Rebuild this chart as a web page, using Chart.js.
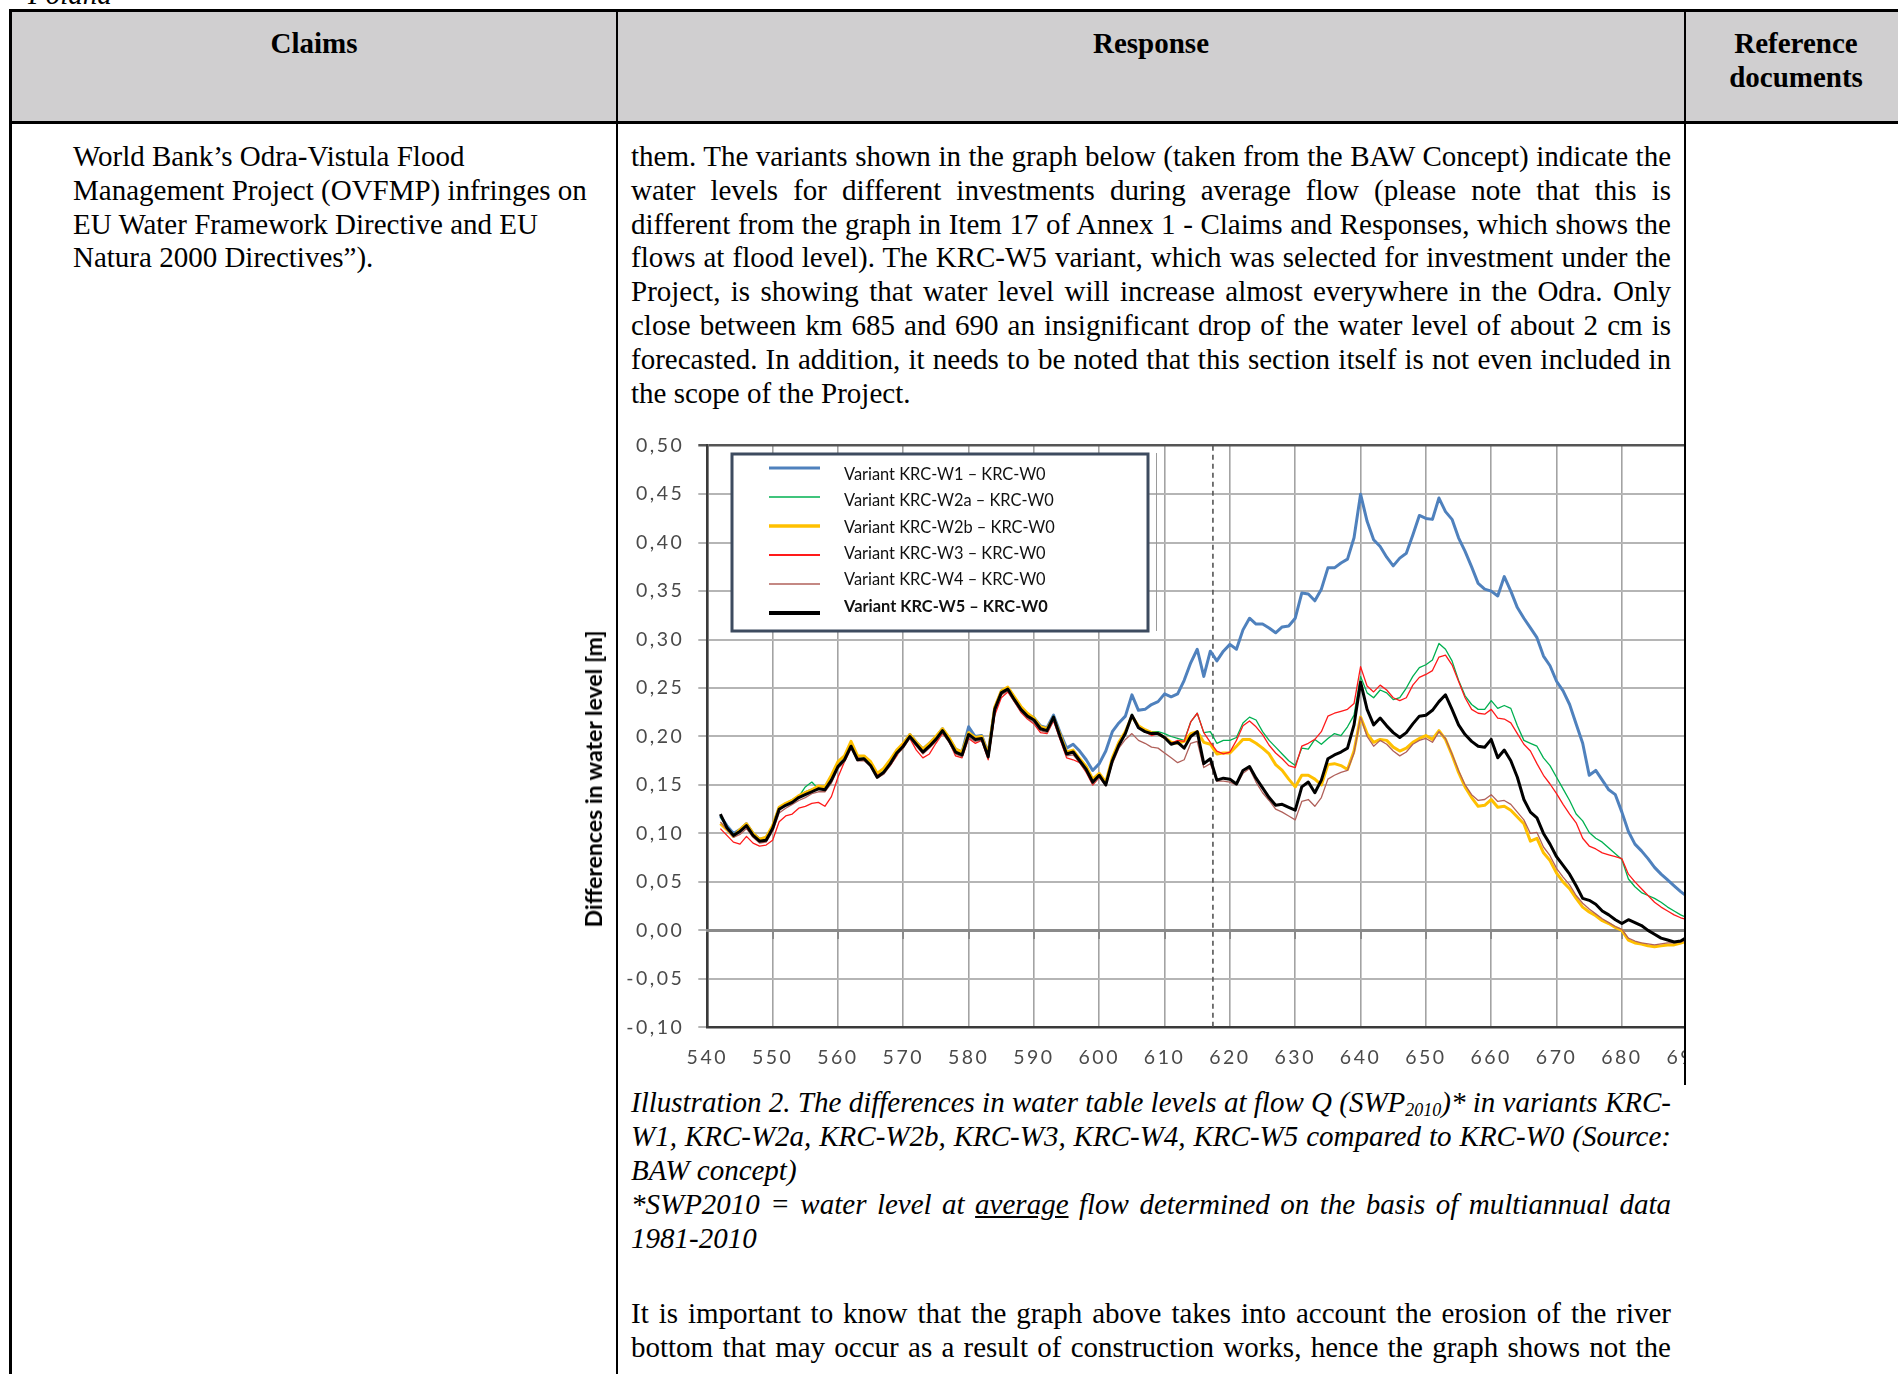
<!DOCTYPE html>
<html>
<head>
<meta charset="utf-8">
<title>Odra water level differences</title>
<script src="https://cdn.jsdelivr.net/npm/chart.js@4.4.1/dist/chart.umd.min.js"></script>
<style>
  html, body { margin: 0; padding: 0; background: #fff; }
  body {
    width: 1898px; height: 1374px; overflow: hidden; position: relative;
    font-family: "Liberation Serif", "Times New Roman", serif; color: #000;
  }
  .ln { position: absolute; font-size: 29px; line-height: 33.9px; height: 33.9px; white-space: nowrap; }
  .hd { font-weight: bold; text-align: center; }
  .it { font-style: italic; }
  .rule { position: absolute; background: #000; z-index: 3; }
  #headBg { position: absolute; left: 12px; top: 12px; width: 1886px; height: 110px; background: #d0cfd0; }
  #plotBox { position: absolute; left: 560px; top: 420px; width: 1124px; height: 660px; overflow: hidden; z-index: 1; }
  #ytitle {
    position: absolute; left: 593px; top: 779px; z-index: 2;
    transform: translate(-50%, -50%) rotate(-90deg);
    font-family: Lato, "Open Sans", sans-serif; font-weight: bold; font-size: 23px; white-space: nowrap;
  }
  sub { font-size: 0.62em; vertical-align: -0.22em; line-height: 0; }
</style>
</head>
<body>

<div class="ln it" style="left:28px; top:-22px;">Poland</div>

<div id="headBg"></div>
<div class="ln hd" style="left:12px; width:604px; top:26.6px;">Claims</div>
<div class="ln hd" style="left:618px; width:1066px; top:26.6px;">Response</div>
<div class="ln hd" style="left:1686px; width:220px; top:26.6px;">Reference</div>
<div class="ln hd" style="left:1686px; width:220px; top:60.5px;">documents</div>

<div class="ln" style="left:73px; top:139.7px;">World Bank’s Odra-Vistula Flood</div>
<div class="ln" style="left:73px; top:173.6px;">Management Project (OVFMP) infringes on</div>
<div class="ln" style="left:73px; top:207.5px;">EU Water Framework Directive and EU</div>
<div class="ln" style="left:73px; top:241.4px;">Natura 2000 Directives”).</div>

<div class="ln j" style="left:631px; width:1040px; top:139.7px;">them. The variants shown in the graph below (taken from the BAW Concept) indicate the</div>
<div class="ln j" style="left:631px; width:1040px; top:173.6px;">water levels for different investments during average flow (please note that this is</div>
<div class="ln j" style="left:631px; width:1040px; top:207.5px;">different from the graph in Item 17 of Annex 1 - Claims and Responses, which shows the</div>
<div class="ln j" style="left:631px; width:1040px; top:241.4px;">flows at flood level). The KRC-W5 variant, which was selected for investment under the</div>
<div class="ln j" style="left:631px; width:1040px; top:275.3px;">Project, is showing that water level will increase almost everywhere in the Odra. Only</div>
<div class="ln j" style="left:631px; width:1040px; top:309.2px;">close between km 685 and 690 an insignificant drop of the water level of about 2 cm is</div>
<div class="ln j" style="left:631px; width:1040px; top:343.1px;">forecasted. In addition, it needs to be noted that this section itself is not even included in</div>
<div class="ln" style="left:631px; top:377px;">the scope of the Project.</div>

<div id="ytitle">Differences in water level [m]</div>
<div id="plotBox"><canvas id="levels" width="1200" height="660" style="width:1200px;height:660px;"></canvas></div>

<div class="ln it j" style="left:631px; width:1040px; top:1086px;">Illustration 2. The differences in water table levels at flow Q (SWP<sub>2010</sub>)* in variants KRC-</div>
<div class="ln it j" style="left:631px; width:1040px; top:1119.9px;">W1, KRC-W2a, KRC-W2b, KRC-W3, KRC-W4, KRC-W5 compared to KRC-W0 (Source:</div>
<div class="ln it" style="left:631px; top:1153.8px;">BAW concept)</div>
<div class="ln it j" style="left:631px; width:1040px; top:1187.7px;">*SWP2010 = water level at <u>average</u> flow determined on the basis of multiannual data</div>
<div class="ln it" style="left:631px; top:1221.6px;">1981-2010</div>

<div class="ln j" style="left:631px; width:1040px; top:1297px;">It is important to know that the graph above takes into account the erosion of the river</div>
<div class="ln j" style="left:631px; width:1040px; top:1330.9px;">bottom that may occur as a result of construction works, hence the graph shows not the</div>

<!-- table rules -->
<div class="rule" style="left:9px; top:9px; width:1889px; height:3px;"></div>
<div class="rule" style="left:9px; top:9px; width:3px; height:1365px;"></div>
<div class="rule" style="left:9px; top:121px; width:1889px; height:3px;"></div>
<div class="rule" style="left:616px; top:9px; width:2px; height:1365px;"></div>
<div class="rule" style="left:1684px; top:9px; width:2px; height:1076px;"></div>

<script>
// River kilometre stations (km of the Odra)
const kmStations = [
  542,543,544,545,546,547,548,549,550,551,
  552,553,554,555,556,557,558,559,560,561,
  562,563,564,565,566,567,568,569,570,571,
  572,573,574,575,576,577,578,579,580,581,
  582,583,584,585,586,587,588,589,590,591,
  592,593,594,595,596,597,598,599,600,601,
  602,603,604,605,606,607,608,609,610,611,
  612,613,614,615,616,617,618,619,620,621,
  622,623,624,625,626,627,628,629,630,631,
  632,633,634,635,636,637,638,639,640,641,
  642,643,644,645,646,647,648,649,650,651,
  652,653,654,655,656,657,658,659,660,661,
  662,663,664,665,666,667,668,669,670,671,
  672,673,674,675,676,677,678,679,680,681,
  682,683,684,685,686,687,688,689,690
];

// Water level difference to KRC-W0 [m], per variant
const diffW1 = [
  0.118,0.108,0.100,0.104,0.110,0.100,0.094,0.095,0.107,0.126,
  0.130,0.134,0.138,0.142,0.145,0.147,0.147,0.158,0.171,0.178,
  0.192,0.178,0.179,0.172,0.161,0.166,0.174,0.185,0.192,0.202,
  0.194,0.187,0.193,0.199,0.208,0.198,0.187,0.184,0.210,0.200,
  0.201,0.183,0.229,0.246,0.250,0.240,0.230,0.223,0.219,0.211,
  0.209,0.222,0.204,0.188,0.192,0.185,0.176,0.165,0.172,0.185,
  0.205,0.214,0.221,0.243,0.227,0.228,0.233,0.236,0.244,0.241,
  0.244,0.258,0.276,0.290,0.262,0.288,0.278,0.288,0.295,0.290,
  0.310,0.322,0.316,0.316,0.312,0.307,0.313,0.314,0.322,0.348,
  0.347,0.340,0.352,0.374,0.374,0.379,0.383,0.405,0.450,0.422,
  0.403,0.396,0.385,0.376,0.384,0.389,0.408,0.428,0.425,0.424,
  0.446,0.432,0.424,0.405,0.391,0.375,0.358,0.352,0.350,0.345,
  0.365,0.350,0.333,0.322,0.312,0.302,0.283,0.273,0.257,0.247,
  0.233,0.213,0.193,0.160,0.165,0.155,0.145,0.140,0.122,0.102,
  0.089,0.082,0.074,0.065,0.058,0.052,0.046,0.040,0.035
];
const diffW2a = [
  0.117,0.107,0.099,0.103,0.109,0.099,0.093,0.094,0.106,0.125,
  0.130,0.133,0.138,0.148,0.153,0.146,0.146,0.156,0.170,0.177,
  0.191,0.177,0.178,0.171,0.159,0.164,0.173,0.184,0.191,0.201,
  0.193,0.185,0.191,0.198,0.207,0.197,0.185,0.182,0.203,0.198,
  0.199,0.180,0.228,0.245,0.248,0.238,0.228,0.222,0.220,0.210,
  0.208,0.221,0.201,0.183,0.185,0.176,0.167,0.154,0.161,0.152,
  0.177,0.192,0.204,0.223,0.210,0.206,0.205,0.205,0.203,0.200,
  0.198,0.196,0.215,0.224,0.204,0.205,0.193,0.196,0.196,0.199,
  0.214,0.220,0.217,0.205,0.196,0.189,0.182,0.175,0.170,0.188,
  0.187,0.197,0.192,0.198,0.203,0.201,0.210,0.222,0.262,0.245,
  0.240,0.248,0.245,0.238,0.240,0.250,0.262,0.271,0.274,0.279,
  0.296,0.290,0.278,0.258,0.242,0.233,0.228,0.228,0.237,0.229,
  0.232,0.229,0.211,0.196,0.193,0.190,0.178,0.170,0.158,0.146,
  0.134,0.120,0.113,0.101,0.095,0.091,0.085,0.079,0.073,0.053,
  0.045,0.039,0.036,0.033,0.029,0.024,0.020,0.016,0.013
];
const diffW2b = [
  0.110,0.104,0.097,0.104,0.110,0.100,0.094,0.096,0.108,0.127,
  0.131,0.134,0.139,0.142,0.145,0.149,0.148,0.160,0.174,0.180,
  0.195,0.180,0.180,0.174,0.162,0.167,0.176,0.186,0.193,0.202,
  0.194,0.187,0.193,0.200,0.208,0.199,0.187,0.184,0.204,0.199,
  0.200,0.182,0.230,0.247,0.251,0.241,0.231,0.224,0.219,0.210,
  0.208,0.219,0.202,0.184,0.186,0.177,0.169,0.156,0.162,0.153,
  0.178,0.194,0.205,0.221,0.211,0.207,0.204,0.203,0.199,0.194,
  0.193,0.195,0.203,0.205,0.194,0.192,0.182,0.183,0.183,0.190,
  0.197,0.197,0.193,0.188,0.182,0.171,0.165,0.156,0.148,0.160,
  0.160,0.156,0.150,0.171,0.172,0.170,0.166,0.185,0.220,0.203,
  0.194,0.197,0.196,0.189,0.185,0.188,0.194,0.198,0.201,0.197,
  0.206,0.197,0.181,0.163,0.148,0.137,0.128,0.129,0.135,0.127,
  0.128,0.124,0.117,0.110,0.092,0.095,0.080,0.072,0.059,0.050,
  0.043,0.033,0.024,0.019,0.015,0.010,0.007,0.003,0.000,-0.010,
  -0.013,-0.014,-0.016,-0.017,-0.016,-0.015,-0.015,-0.013,-0.011
];
const diffW3 = [
  0.105,0.098,0.091,0.089,0.097,0.090,0.087,0.088,0.093,0.112,
  0.118,0.120,0.126,0.128,0.131,0.132,0.128,0.138,0.158,0.174,
  0.188,0.178,0.176,0.170,0.160,0.163,0.170,0.180,0.192,0.198,
  0.186,0.178,0.182,0.193,0.203,0.195,0.180,0.178,0.198,0.193,
  0.196,0.176,0.222,0.240,0.246,0.236,0.225,0.218,0.213,0.204,
  0.203,0.216,0.197,0.178,0.176,0.173,0.163,0.150,0.158,0.150,
  0.174,0.190,0.204,0.222,0.210,0.205,0.201,0.203,0.198,0.193,
  0.196,0.195,0.215,0.224,0.204,0.194,0.185,0.182,0.184,0.196,
  0.211,0.216,0.210,0.202,0.191,0.183,0.177,0.170,0.168,0.190,
  0.193,0.197,0.205,0.221,0.224,0.226,0.228,0.234,0.272,0.252,
  0.246,0.253,0.248,0.240,0.237,0.240,0.253,0.261,0.264,0.268,
  0.282,0.284,0.274,0.257,0.240,0.228,0.224,0.223,0.228,0.219,
  0.218,0.214,0.203,0.192,0.185,0.172,0.160,0.151,0.141,0.130,
  0.120,0.111,0.095,0.087,0.084,0.080,0.078,0.076,0.074,0.058,
  0.050,0.043,0.036,0.029,0.024,0.020,0.016,0.013,0.011
];
const diffW4 = [
  0.112,0.104,0.096,0.099,0.105,0.096,0.090,0.091,0.102,0.121,
  0.126,0.130,0.134,0.137,0.141,0.143,0.143,0.152,0.167,0.174,
  0.188,0.175,0.175,0.169,0.157,0.161,0.170,0.181,0.188,0.198,
  0.190,0.182,0.188,0.195,0.204,0.194,0.182,0.179,0.199,0.195,
  0.196,0.178,0.225,0.243,0.247,0.236,0.226,0.219,0.214,0.206,
  0.204,0.217,0.198,0.180,0.181,0.173,0.164,0.151,0.158,0.149,
  0.172,0.188,0.197,0.203,0.196,0.193,0.189,0.188,0.183,0.178,
  0.173,0.176,0.193,0.195,0.168,0.172,0.154,0.154,0.153,0.150,
  0.162,0.167,0.153,0.142,0.134,0.125,0.122,0.118,0.114,0.133,
  0.135,0.128,0.137,0.156,0.160,0.163,0.165,0.183,0.220,0.200,
  0.190,0.196,0.192,0.185,0.180,0.184,0.192,0.196,0.198,0.194,
  0.205,0.198,0.182,0.165,0.150,0.140,0.134,0.135,0.140,0.133,
  0.134,0.130,0.122,0.114,0.100,0.101,0.086,0.077,0.064,0.055,
  0.047,0.036,0.028,0.022,0.017,0.012,0.008,0.004,0.001,-0.008,
  -0.011,-0.013,-0.014,-0.015,-0.014,-0.013,-0.013,-0.012,-0.010
];
const diffW5 = [
  0.120,0.106,0.098,0.102,0.108,0.098,0.092,0.093,0.105,0.125,
  0.129,0.132,0.137,0.140,0.143,0.146,0.145,0.155,0.169,0.176,
  0.190,0.176,0.177,0.170,0.158,0.163,0.172,0.183,0.190,0.200,
  0.192,0.184,0.190,0.197,0.206,0.196,0.184,0.181,0.202,0.197,
  0.198,0.179,0.228,0.245,0.249,0.238,0.228,0.221,0.217,0.208,
  0.206,0.220,0.200,0.182,0.184,0.175,0.166,0.153,0.160,0.150,
  0.175,0.191,0.203,0.222,0.209,0.205,0.203,0.203,0.199,0.192,
  0.194,0.188,0.200,0.205,0.172,0.177,0.155,0.157,0.156,0.151,
  0.165,0.169,0.157,0.147,0.137,0.129,0.130,0.127,0.124,0.148,
  0.153,0.142,0.155,0.177,0.181,0.184,0.188,0.212,0.256,0.228,
  0.212,0.219,0.211,0.204,0.199,0.204,0.213,0.221,0.222,0.227,
  0.236,0.243,0.228,0.212,0.202,0.195,0.190,0.189,0.197,0.178,
  0.186,0.175,0.158,0.135,0.122,0.116,0.100,0.089,0.076,0.067,
  0.058,0.046,0.033,0.031,0.027,0.020,0.016,0.011,0.007,0.011,
  0.008,0.005,0.000,-0.004,-0.008,-0.010,-0.012,-0.011,-0.007
];

const variantLabels = [
  'Variant KRC-W1 – KRC-W0',
  'Variant KRC-W2a – KRC-W0',
  'Variant KRC-W2b – KRC-W0',
  'Variant KRC-W3 – KRC-W0',
  'Variant KRC-W4 – KRC-W0',
  'Variant KRC-W5 – KRC-W0'
];

// Reference station marked by the dashed line [km]
const markerKm = [617.4];

// Axis ranges and steps
const kmRange = [540, 690];
const kmStep = 10;
const levelRange = [-0.10, 0.50];
const levelStep = 0.05;

// ---- drawing ----
const variantValues = [diffW1, diffW2a, diffW2b, diffW3, diffW4, diffW5];
const variantStyles = [
  { color: '#4f81bd', width: 3,   keyWidth: 3,   bold: false },
  { color: '#00b050', width: 1.3, keyWidth: 1.6, bold: false },
  { color: '#ffc000', width: 3,   keyWidth: 3.5, bold: false },
  { color: '#ff1a1a', width: 1.3, keyWidth: 1.8, bold: false },
  { color: '#b0605a', width: 1.3, keyWidth: 1.4, bold: false },
  { color: '#000000', width: 3,   keyWidth: 4,   bold: true  }
];

const datasets = variantValues.map((vals, i) => ({
  label: variantLabels[i],
  data: kmStations.map((km, k) => ({ x: km, y: vals[k] })),
  borderColor: variantStyles[i].color,
  borderWidth: variantStyles[i].width,
  keyWidth: variantStyles[i].keyWidth,
  keyBold: variantStyles[i].bold,
  inKey: true,
  pointRadius: 0,
  tension: 0,
  borderJoinStyle: 'round',
  fill: false,
  xAxisID: 'x', yAxisID: 'y',
  order: 6 - i
}));

datasets.push({
  label: 'marker',
  data: [{ x: markerKm[0], y: levelRange[1] }, { x: markerKm[0], y: levelRange[0] - 0.003 }],
  borderColor: '#555555',
  borderWidth: 1.6,
  borderDash: [5, 4],
  pointRadius: 0,
  inKey: false,
  clip: false,
  xAxisID: 'x', yAxisID: 'y',
  order: 20
});

// widens tick label lettering (ticks are drawn after the datasets)
const tickLettering = {
  id: 'tickLettering',
  beforeDraw(chart) { chart.ctx.letterSpacing = '0px'; },
  afterDatasetsDraw(chart) { chart.ctx.letterSpacing = '2.5px'; },
  afterDraw(chart) { chart.ctx.letterSpacing = '0px'; }
};

// boxed key inside the plot area
const insetKey = {
  id: 'insetKey',
  afterDraw(chart) {
    const ctx = chart.ctx;
    const items = chart.data.datasets.filter(d => d.inKey);
    const bx = 172, by = 34, bw = 416, bh = 177;
    ctx.save();
    ctx.letterSpacing = '0px';
    ctx.strokeStyle = '#9a9a9a';
    ctx.lineWidth = 1;
    ctx.beginPath();
    ctx.moveTo(bx + bw + 8.5, by - 1);
    ctx.lineTo(bx + bw + 8.5, by + bh);
    ctx.stroke();
    ctx.fillStyle = '#ffffff';
    ctx.fillRect(bx, by, bw, bh);
    ctx.strokeStyle = '#3d4b5f';
    ctx.lineWidth = 3;
    ctx.strokeRect(bx, by, bw, bh);
    items.forEach((d, i) => {
      const ly = 48 + i * 29;
      const ty = 54.5 + i * 26.4;
      ctx.strokeStyle = d.borderColor;
      ctx.lineWidth = d.keyWidth;
      ctx.beginPath();
      ctx.moveTo(209, ly);
      ctx.lineTo(260, ly);
      ctx.stroke();
      ctx.font = (d.keyBold ? 'bold ' : '') + '16.4px Lato, "Open Sans", sans-serif';
      ctx.fillStyle = '#111111';
      ctx.textBaseline = 'middle';
      ctx.textAlign = 'left';
      ctx.fillText(d.label, 284, ty);
    });
    ctx.restore();
  }
};

const levelLabel = v => {
  if (Math.abs(v) < 1e-9) return '0,00';
  return v.toFixed(2).replace('.', ',');
};

const tickFont = { family: 'Lato, "Open Sans", sans-serif', size: 19.5 };

// target plot rectangle inside the canvas
const plotRect = { left: 147.3, top: 20.7, right: 1127.2, bottom: 607.3 };

const chart = new Chart(document.getElementById('levels'), {
  type: 'line',
  data: { datasets },
  plugins: [tickLettering, insetKey],
  options: {
    responsive: false,
    animation: false,
    devicePixelRatio: 1,
    layout: { padding: { left: 0, top: plotRect.top, right: 1200 - plotRect.right, bottom: 660 - plotRect.bottom - 40 } },
    plugins: { legend: { display: false }, tooltip: { enabled: false } },
    scales: {
      x: {
        type: 'linear',
        position: 'bottom',
        min: kmRange[0], max: kmRange[1],
        afterFit(s) { s.height = 40; },
        ticks: { stepSize: kmStep, autoSkip: false, maxRotation: 0, padding: 19, color: '#4a4a4a', font: tickFont, z: 1 },
        grid: { color: '#a3a3a3', lineWidth: 1.6, drawTicks: false },
        border: { display: true, color: '#3a3a3a', width: 2.5 }
      },
      y: {
        type: 'linear',
        position: 'left',
        min: levelRange[0], max: levelRange[1],
        afterFit(s) { s.width = plotRect.left; },
        ticks: { stepSize: levelStep, padding: 14, color: '#4a4a4a', font: tickFont, z: 1, callback: levelLabel },
        grid: {
          tickLength: 9,
          color: c => Math.abs(c.tick.value - levelRange[1]) < 1e-6 ? '#555555' : '#b5b5b5',
          lineWidth: c => Math.abs(c.tick.value - levelRange[1]) < 1e-6 ? 2.5 : 2
        },
        border: { display: true, color: '#3a3a3a', width: 2.5 }
      },
      x0: {
        type: 'linear',
        position: { y: 0 },
        min: kmRange[0], max: kmRange[1],
        afterFit(s) { s.height = 0; },
        ticks: { display: false, stepSize: kmStep },
        grid: { drawOnChartArea: false, drawTicks: true, tickLength: 7, color: '#8a8a8a', lineWidth: 2 },
        border: { display: true, color: '#8a8a8a', width: 3 }
      }
    }
  }
});

// settle the plot rectangle exactly where it belongs
(function settlePlot() {
  const ca = chart.chartArea;
  const pad = chart.options.layout.padding;
  pad.top += plotRect.top - ca.top;
  pad.bottom += ca.bottom - plotRect.bottom;
  pad.right += ca.right - plotRect.right;
  pad.left += plotRect.left - ca.left;
  chart.update();
})();

// stretch word gaps so each full line of text spans its column
function justifyLines() {
  document.querySelectorAll('.j').forEach(el => {
    el.style.wordSpacing = '0px';
    const target = parseFloat(el.style.width);
    const probe = document.createElement('span');
    while (el.firstChild) probe.appendChild(el.firstChild);
    el.appendChild(probe);
    const natural = probe.getBoundingClientRect().width;
    const gaps = (el.textContent.match(/ /g) || []).length;
    if (gaps > 0) el.style.wordSpacing = ((target - natural) / gaps) + 'px';
  });
}
justifyLines();
</script>
</body>
</html>
